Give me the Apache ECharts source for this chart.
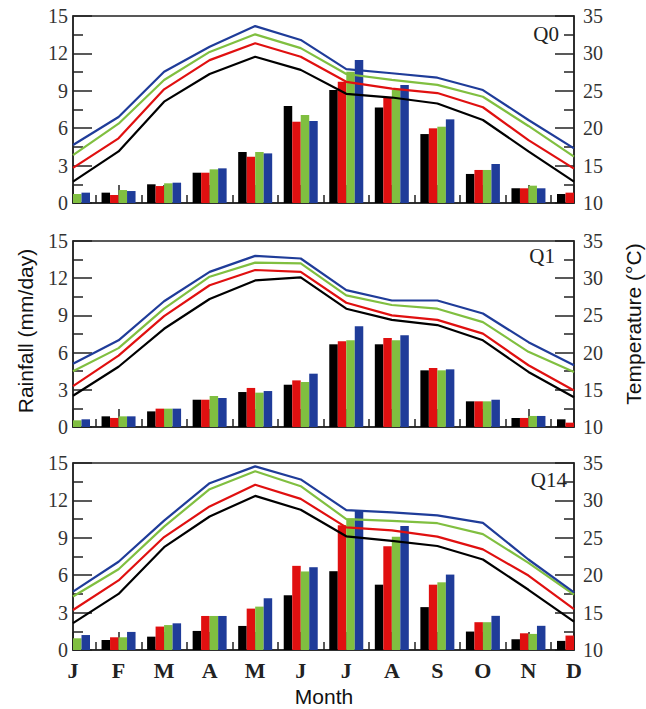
<!DOCTYPE html>
<html>
<head>
    <meta charset="utf-8" />
    <script src="https://cdn.jsdelivr.net/npm/echarts@6/dist/echarts.min.js"></script>
</head>
<body style="margin:0;padding:0;background:#ffffff;">
    <div id="main" style="width:646px;height:709px;"></div>
    <script type="text/javascript">
        // months on the shared x axis
        var months = ['J', 'F', 'M', 'A', 'M', 'J', 'J', 'A', 'S', 'O', 'N', 'D'];
        var panels = ['Q0', 'Q1', 'Q14'];
        var runNames = ['Run 1', 'Run 2', 'Run 3', 'Run 4'];
        var runColors = ['#000000', '#e01010', '#80bf40', '#1f3c99'];

        // rainfall (mm/day), one row per run: black, red, green, blue
        // (bars that sit outside the frame at J and D are left empty)
        var rainQ0 = [
            [null, 0.83, 1.50, 2.43, 4.09, 7.78, 9.06, 7.67, 5.53, 2.33, 1.18, 0.72],
            [null, 0.64, 1.36, 2.43, 3.71, 6.52, 9.73, 8.47, 5.99, 2.65, 1.18, 0.83],
            [0.72, 1.04, 1.58, 2.70, 4.09, 7.06, 10.53, 9.06, 6.12, 2.65, 1.39, null],
            [0.83, 0.96, 1.63, 2.78, 3.98, 6.58, 11.47, 9.46, 6.71, 3.13, 1.18, null]
        ];
        var rainQ1 = [
            [null, 0.86, 1.26, 2.20, 2.82, 3.41, 6.67, 6.67, 4.57, 2.07, 0.73, 0.62],
            [null, 0.73, 1.48, 2.20, 3.15, 3.76, 6.91, 7.18, 4.76, 2.07, 0.73, 0.35],
            [0.54, 0.86, 1.48, 2.50, 2.77, 3.63, 6.99, 6.99, 4.57, 2.07, 0.89, null],
            [0.62, 0.86, 1.48, 2.34, 2.90, 4.30, 8.12, 7.39, 4.65, 2.20, 0.89, null]
        ];
        var rainQ14 = [
            [null, 0.80, 1.07, 1.53, 1.93, 4.39, 6.32, 5.24, 3.44, 1.48, 0.86, 0.73],
            [null, 1.02, 1.88, 2.73, 3.32, 6.75, 10.00, 8.33, 5.24, 2.23, 1.34, 1.16],
            [0.94, 1.02, 2.00, 2.73, 3.48, 6.30, 10.54, 9.09, 5.43, 2.23, 1.29, null],
            [1.20, 1.45, 2.14, 2.73, 4.15, 6.64, 11.16, 9.95, 6.05, 2.74, 1.94, null]
        ];

        // temperature (°C), same run order
        var tempQ0 = [
            [12.85, 16.9, 23.55, 27.25, 29.55, 27.8, 24.6, 24.1, 23.3, 21.1, 16.9, 12.85],
            [14.7, 18.65, 25.2, 29.1, 31.35, 29.55, 26.2, 25.3, 24.7, 22.8, 18.4, 14.6],
            [16.4, 20.6, 26.45, 30.2, 32.55, 30.7, 27.25, 26.45, 25.8, 24.2, 20.3, 16.2],
            [17.75, 21.5, 27.55, 30.9, 33.65, 31.8, 27.9, 27.35, 26.75, 25.1, 21.1, 17.3]
        ];
        var tempQ1 = [
            [14.2, 18.1, 23.2, 27.2, 29.7, 30.1, 25.9, 24.4, 23.7, 21.65, 17.4, 14.0],
            [15.5, 19.6, 24.9, 29.05, 31.1, 30.85, 26.7, 25.0, 24.4, 22.55, 18.3, 14.9],
            [17.5, 20.6, 25.9, 30.2, 32.1, 32.0, 27.7, 26.4, 25.9, 24.1, 20.1, 17.4],
            [18.5, 21.65, 26.9, 30.85, 33.0, 32.65, 28.4, 27.0, 27.0, 25.25, 21.4, 18.3]
        ];
        var tempQ14 = [
            [13.6, 17.5, 23.75, 27.85, 30.6, 28.75, 25.2, 24.6, 23.9, 22.1, 18.05, 13.8],
            [15.35, 19.3, 25.1, 29.2, 32.1, 30.2, 26.4, 26.0, 25.15, 23.45, 19.95, 15.45],
            [17.15, 20.8, 26.5, 31.5, 33.9, 31.9, 27.5, 27.25, 26.95, 25.5, 21.65, 17.4],
            [17.8, 21.8, 27.3, 32.3, 34.55, 32.8, 28.7, 28.4, 28.0, 27.0, 22.1, 17.7]
        ];

        var rainMin = 0, rainMax = 15, rainStep = 3;
        var tempMin = 10, tempMax = 35, tempStep = 5;

        var rainData = [rainQ0, rainQ1, rainQ14];
        var tempData = [tempQ0, tempQ1, tempQ14];

        /*************************************************************
        * three stacked panels, rainfall left / temperature right
        *************************************************************/
        var gridTops = [16, 241, 463];
        var gridHeights = [187, 186, 187];
        var grids = [], xAxes = [], yAxes = [], seriesList = [];

        function toPoints(arr) {
            return arr.map(function (v, i) { return [i, v == null ? '-' : v]; });
        }

        for (var p = 0; p < panels.length; p++) {
            grids.push({ left: 73, width: 501, top: gridTops[p], height: gridHeights[p], show: true, borderColor: '#222', borderWidth: 1.5 });
            xAxes.push({
                type: 'value', gridIndex: p, min: 0, max: 11, interval: 1, splitLine: { show: false },
                axisLine: { show: true, onZero: false, lineStyle: { color: '#222', width: 1.5 } },
                axisTick: { show: true, inside: true, length: 18, lineStyle: { color: '#222', width: 1.5 } },
                minorTick: { show: true, splitNumber: 2, length: 8, lineStyle: { color: '#222', width: 1.5 } },
                axisLabel: {
                    show: p == 2, margin: 9, showMinLabel: true, showMaxLabel: true,
                    fontFamily: 'Liberation Serif', fontWeight: 'bold', fontSize: 22, color: '#222',
                    formatter: function (v) { return months[Math.round(v)]; }
                }
            });
            var ymt = { show: true, splitNumber: 2, length: 10, lineStyle: { color: '#222', width: 1.5 } };
            yAxes.push({
                type: 'value', gridIndex: p, position: 'left', min: rainMin, max: rainMax, interval: rainStep, splitLine: { show: false },
                axisLine: { show: true, onZero: false, lineStyle: { color: '#222', width: 1.5 } },
                axisTick: { show: true, inside: true, length: 19, lineStyle: { color: '#222', width: 1.5 } }, minorTick: ymt,
                axisLabel: { margin: 5, fontFamily: 'Liberation Serif', fontSize: 20, color: '#333' }
            });
            yAxes.push({
                type: 'value', gridIndex: p, position: 'right', min: tempMin, max: tempMax, interval: tempStep, splitLine: { show: false },
                axisLine: { show: true, onZero: false, lineStyle: { color: '#222', width: 1.5 } },
                axisTick: { show: true, inside: true, length: 19, lineStyle: { color: '#222', width: 1.5 } }, minorTick: ymt,
                axisLabel: { margin: 9, fontFamily: 'Liberation Serif', fontSize: 20, color: '#333' }
            });
            // bars first, temperature lines over them
            for (var r = 0; r < 4; r++) {
                seriesList.push({
                    type: 'bar', name: runNames[r], xAxisIndex: p, yAxisIndex: p * 2, barWidth: 8.5, barGap: '0%',
                    itemStyle: { color: runColors[r] },
                    data: toPoints(rainData[p][r])
                });
            }
            for (var r = 0; r < 4; r++) {
                seriesList.push({
                    type: 'line', name: runNames[r], xAxisIndex: p, yAxisIndex: p * 2 + 1, showSymbol: false, z: 3,
                    itemStyle: { color: runColors[r] }, lineStyle: { color: runColors[r], width: 2.2 },
                    data: toPoints(tempData[p][r])
                });
            }
        }

        var labelPos = [[559, 34], [555, 256], [567, 480]];
        var graphics = [
            { type: 'text', x: 25, y: 331, rotation: Math.PI / 2, style: { text: 'Rainfall (mm/day)', fontFamily: 'Liberation Sans', fontSize: 21, fill: '#111', align: 'center', verticalAlign: 'middle' } },
            { type: 'text', x: 633, y: 324, rotation: Math.PI / 2, style: { text: 'Temperature (°C)', fontFamily: 'Liberation Sans', fontSize: 21, fill: '#111', align: 'center', verticalAlign: 'middle' } },
            { type: 'text', x: 324, y: 696, style: { text: 'Month', fontFamily: 'Liberation Sans', fontSize: 21, fill: '#111', align: 'center', verticalAlign: 'middle' } }
        ];
        for (var q = 0; q < panels.length; q++) {
            graphics.push({ type: 'text', x: labelPos[q][0], y: labelPos[q][1], style: { text: panels[q], fontFamily: 'Liberation Serif', fontSize: 21, fill: '#222', align: 'right', verticalAlign: 'middle' } });
        }

        var chart = echarts.init(document.getElementById('main'), null, { renderer: 'svg' });
        chart.setOption({ animation: false, grid: grids, xAxis: xAxes, yAxis: yAxes, series: seriesList, graphic: graphics });
    </script>
</body>
</html>
